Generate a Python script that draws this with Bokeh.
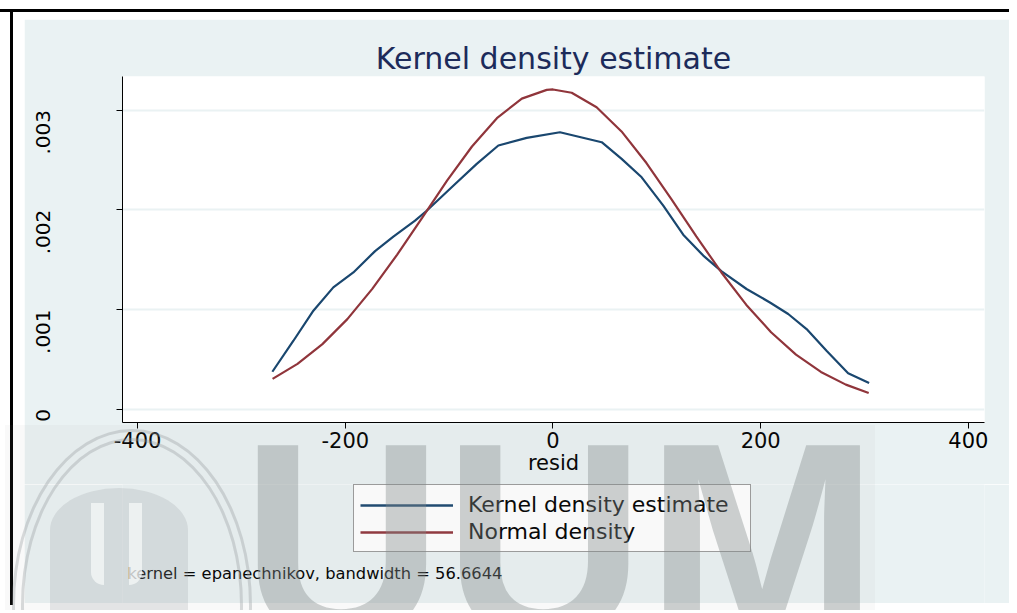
import numpy as np
from bokeh.plotting import figure
from bokeh.layouts import column, row
from bokeh.models import (Range1d, FixedTicker, CustomJSTickFormatter, Legend,
                          LegendItem, Label, Spacer, Div)
from bokeh.embed import file_html
from bokeh.resources import INLINE

# ---------------- data ----------------
kde_x = [-270.2, -249.9, -230.7, -211.5, -192.2, -171.3, -153.7, -132.8, -121.6,
         -96.0, -73.4, -52.6, -25.3, 6.7, 46.9, 66.1, 85.4, 106.2, 125.4, 144.7,
         162.4, 186.4, 208.9, 226.5, 244.2, 263.4, 284.2, 304.4]
kde_y = [0.000375, 0.000686, 0.000987, 0.001221, 0.001371, 0.001585, 0.001730,
         0.001890, 0.001990, 0.002241, 0.002460, 0.002644, 0.002721, 0.002777,
         0.002677, 0.002510, 0.002325, 0.002041, 0.001750, 0.001540, 0.001382,
         0.001205, 0.001070, 0.000954, 0.000803, 0.000585, 0.000361, 0.000261]

norm_x = [-270, -246, -222, -198, -174, -150, -126, -102, -78, -54, -30, -6, 0, 18,
          42, 66, 90, 114, 138, 162, 186, 210, 234, 258, 282, 304]
norm_y = [0.000304, 0.000454, 0.000652, 0.000903, 0.001206, 0.001550, 0.001919,
          0.002291, 0.002634, 0.002918, 0.003114, 0.003202, 0.003206, 0.003173,
          0.003028, 0.002785, 0.002468, 0.002107, 0.001733, 0.001373, 0.001048,
          0.000771, 0.000547, 0.000373, 0.000246, 0.000162]

x_ticks = [-400, -200, 0, 200, 400]
y_ticks = [0, 0.001, 0.002, 0.003]
series_names = ["Kernel density estimate", "Normal density"]
title_text = "Kernel density estimate"
x_label = "resid"
note_text = "kernel = epanechnikov, bandwidth = 56.6644"
watermark_text = "UUM"

# ---------------- styling ----------------
FONT = "DejaVu Sans"
BG = "#eaf2f3"
KDE_COLOR = "#1a476f"
NORM_COLOR = "#90353b"

PW = 985
P1H = 465   # main plot panel (title, frame, x axis)
P2H = 119   # legend + note panel
FRAME_W = 862

p = figure(width=PW, height=P1H, output_backend="svg", toolbar_location=None,
           x_range=Range1d(-414.5, 415.5), y_range=Range1d(-0.000134, 0.003336),
           min_border_left=98, min_border_right=25, min_border_top=57,
           min_border_bottom=62)
p.border_fill_color = BG
p.background_fill_color = "white"
p.outline_line_color = None

p.title.text = title_text
p.title.text_font = FONT
p.title.text_font_size = "30px"
p.title.text_font_style = "normal"
p.title.text_color = "#1c2b5a"
p.title.align = "center"
p.title.standoff = 2

p.xaxis.ticker = FixedTicker(ticks=x_ticks)
p.yaxis.ticker = FixedTicker(ticks=y_ticks)
p.xaxis.formatter = CustomJSTickFormatter(code="return tick.toString();")
p.yaxis.formatter = CustomJSTickFormatter(
    code="return tick == 0 ? '0' : tick.toFixed(3).replace(/^0/, '');")
for ax in (p.xaxis[0], p.yaxis[0]):
    ax.axis_line_color = "black"
    ax.axis_line_width = 1
    ax.major_tick_line_color = "black"
    ax.major_tick_out = 6
    ax.major_tick_in = 0
    ax.minor_tick_line_color = None
    ax.major_label_text_font = FONT
    ax.major_label_text_color = "black"

p.xaxis.major_label_text_font_size = "21px"
p.xaxis.major_label_standoff = 3
p.xaxis.axis_label = x_label
p.xaxis.axis_label_text_font = FONT
p.xaxis.axis_label_text_font_size = "21px"
p.xaxis.axis_label_text_font_style = "normal"
p.xaxis.axis_label_text_color = "black"
p.xaxis.axis_label_standoff = 0

p.yaxis.major_label_text_font_size = "20px"
p.yaxis.major_label_orientation = np.pi / 2
p.yaxis.major_label_standoff = 73

p.xgrid.grid_line_color = None
p.ygrid.grid_line_color = BG
p.ygrid.grid_line_width = 2

r1 = p.line(kde_x, kde_y, line_color=KDE_COLOR, line_width=2.2)
r2 = p.line(norm_x, norm_y, line_color=NORM_COLOR, line_width=2.2)

# ---------------- legend + note panel (frame aligned with the plot above) ----------------
p2 = figure(width=PW, height=P2H, output_backend="svg", toolbar_location=None,
            x_range=Range1d(0, FRAME_W), y_range=Range1d(P2H, 0),
            x_axis_type=None, y_axis_type=None,
            min_border_left=98, min_border_right=25, min_border_top=0,
            min_border_bottom=0)
p2.border_fill_color = BG
p2.background_fill_color = BG
p2.outline_line_color = None
p2.grid.grid_line_color = None
# legend keys: same series, hidden in this panel (they only provide the key glyphs)
k1 = p2.line(kde_x, kde_y, line_color=KDE_COLOR, line_width=2.5, visible=False)
k2 = p2.line(norm_x, norm_y, line_color=NORM_COLOR, line_width=2.5, visible=False)

legend = Legend(items=[LegendItem(label=series_names[0], renderers=[k1]),
                       LegendItem(label=series_names[1], renderers=[k2])],
                location=(231, 51), orientation="vertical",
                label_text_font=FONT, label_text_font_size="22px",
                label_text_color="black", glyph_width=93, glyph_height=20,
                label_height=27, label_width=276, label_standoff=15,
                padding=6, spacing=0, margin=0,
                border_line_color="#3a3a3a", border_line_width=1,
                background_fill_color="white", background_fill_alpha=1.0,
                inactive_fill_alpha=0.0)
p2.add_layout(legend)

p2.add_layout(Label(x=5, y=89, text=note_text, text_font=FONT,
                    text_font_size="16.3px", text_color="black",
                    text_baseline="middle", text_align="left"))

# ---------------- page frame (white margins, black border lines) ----------------
blk = {"background-color": "black"}
body = row(
    Spacer(width=10, height=593),
    Spacer(width=3, height=593, styles=blk),
    Spacer(width=11, height=593),
    column(Spacer(width=PW, height=7), p, p2, Spacer(width=PW, height=2)),
)

# watermark overlay (seal + big letters), drawn above the chart
ring = 'box-sizing:border-box;border:3px solid rgba(150,156,158,0.35);border-radius:50%;'
wm_html = (
    '<div style="position:relative;width:870px;height:185px;overflow:hidden;'
    'background:rgba(150,150,150,0.06);">'
    '<div style="position:absolute;left:7px;top:4px;width:240px;height:352px;' + ring + '"></div>'
    '<div style="position:absolute;left:16px;top:13px;width:222px;height:334px;' + ring + '"></div>'
    '<div style="position:absolute;left:45px;top:63px;width:138px;height:140px;'
    'background:rgba(150,156,158,0.22);border-radius:50% 50% 0 0 / 30% 30% 0 0;"></div>'
    '<div style="position:absolute;left:86px;top:78px;width:13px;height:82px;'
    'background:rgba(246,248,248,0.75);border-bottom-left-radius:26px;"></div>'
    '<div style="position:absolute;left:124px;top:78px;width:13px;height:82px;'
    'background:rgba(246,248,248,0.75);border-bottom-right-radius:26px;"></div>'
    '<span style="position:absolute;left:236px;top:-24px;font-family:\'Liberation Sans\';'
    'font-weight:bold;font-size:280px;line-height:280px;white-space:nowrap;'
    'color:rgba(128,136,138,0.38);">' + watermark_text + '</span></div>'
)
wm = Div(text=wm_html, width=870, height=185,
         styles={"position": "absolute", "left": "0px", "top": "420px",
                 "width": "870px", "height": "185px", "overflow": "hidden",
                 "pointer-events": "none", "z-index": "10"})

root = column(Spacer(width=1009, height=9),
              Spacer(width=1009, height=3, styles=blk),
              body, wm)

open("out.html", "w").write(file_html(root, INLINE))
